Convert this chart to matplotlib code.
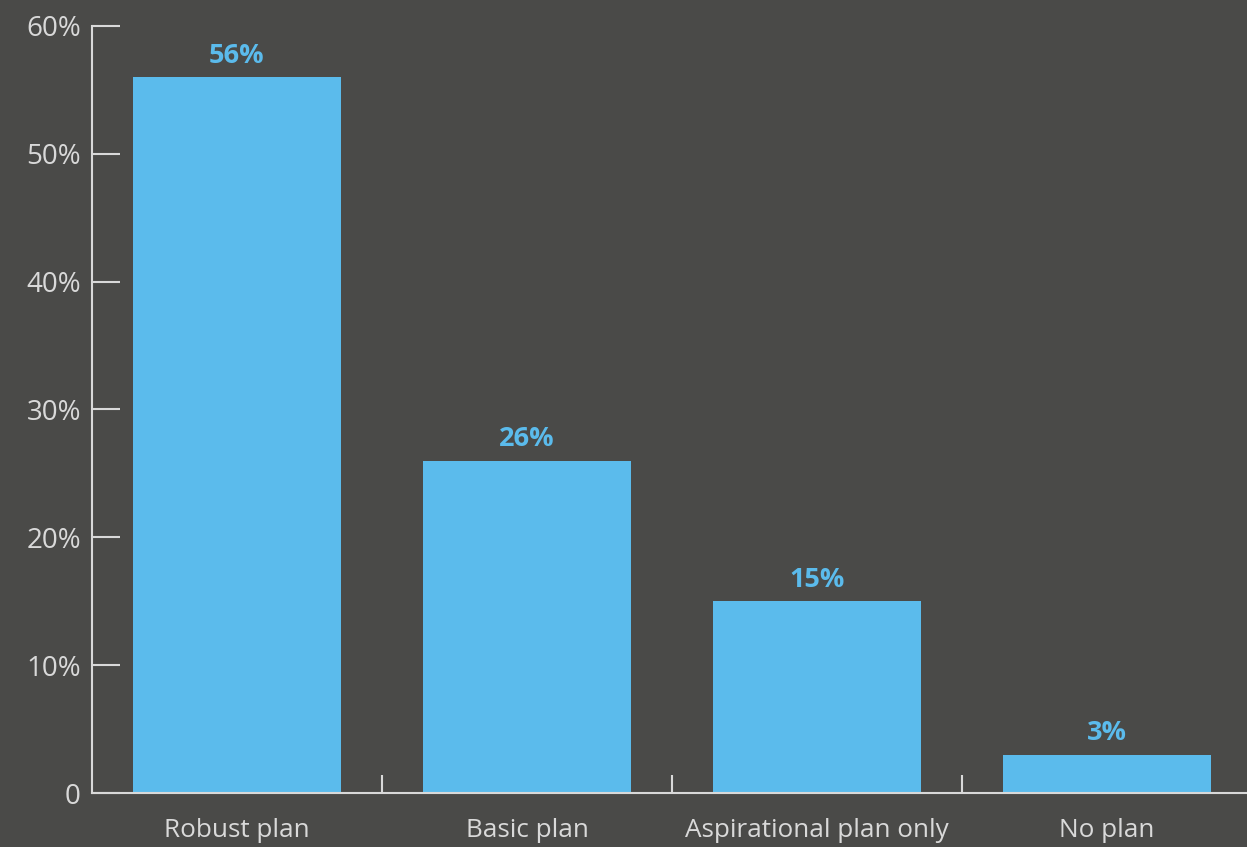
import matplotlib
matplotlib.use("Agg")
import matplotlib.pyplot as plt
import numpy as np

# survey results
categories = ["Robust plan", "Basic plan", "Aspirational plan only", "No plan"]
values = [56, 26, 15, 3]
yticks = [0, 10, 20, 30, 40, 50, 60]
ytick_labels = ["0", "10%", "20%", "30%", "40%", "50%", "60%"]

bg = "#4a4a48"
bar_color = "#5bbbec"
axis_color = "#d9d9d9"

plt.rcParams['font.family'] = ['Open Sans', 'DejaVu Sans']

fig = plt.figure(figsize=(12.47, 8.47), dpi=100, facecolor=bg)
ax = fig.add_axes([92/1247, 54/847, 1160/1247, 767/847], facecolor=bg)

x = np.arange(len(categories))
bars = ax.bar(x, values, width=0.717, color=bar_color, zorder=2)

for xi, v in zip(x, values):
    ax.annotate(f"{v}%", (xi, v), xytext=(0, 6), textcoords="offset points",
                ha="center", va="bottom", color=bar_color, fontsize=19.5, fontweight="bold")

ax.set_xlim(-0.5, len(categories) - 0.5)
ax.set_ylim(0, 60)

for s in ["top", "right"]:
    ax.spines[s].set_visible(False)
for s in ["left", "bottom"]:
    ax.spines[s].set_color(axis_color)
    ax.spines[s].set_linewidth(1.5)

ax.set_yticks(yticks)
ax.set_yticklabels(ytick_labels)
ax.tick_params(axis="y", direction="in", length=20, width=1.5, color=axis_color,
               labelcolor=axis_color, labelsize=20, pad=8)

# boundary ticks as major, category names as minor
ax.set_xticks(x[:-1] + 0.5)
ax.set_xticklabels([])
ax.tick_params(axis="x", which="major", direction="in", length=13, width=1.5, color=axis_color)
ax.set_xticks(x, minor=True)
ax.set_xticklabels(categories, minor=True)
ax.tick_params(axis="x", which="minor", length=0, labelcolor=axis_color, labelsize=18.8, pad=18)

fig.savefig("out.png", dpi=100, facecolor=bg)
